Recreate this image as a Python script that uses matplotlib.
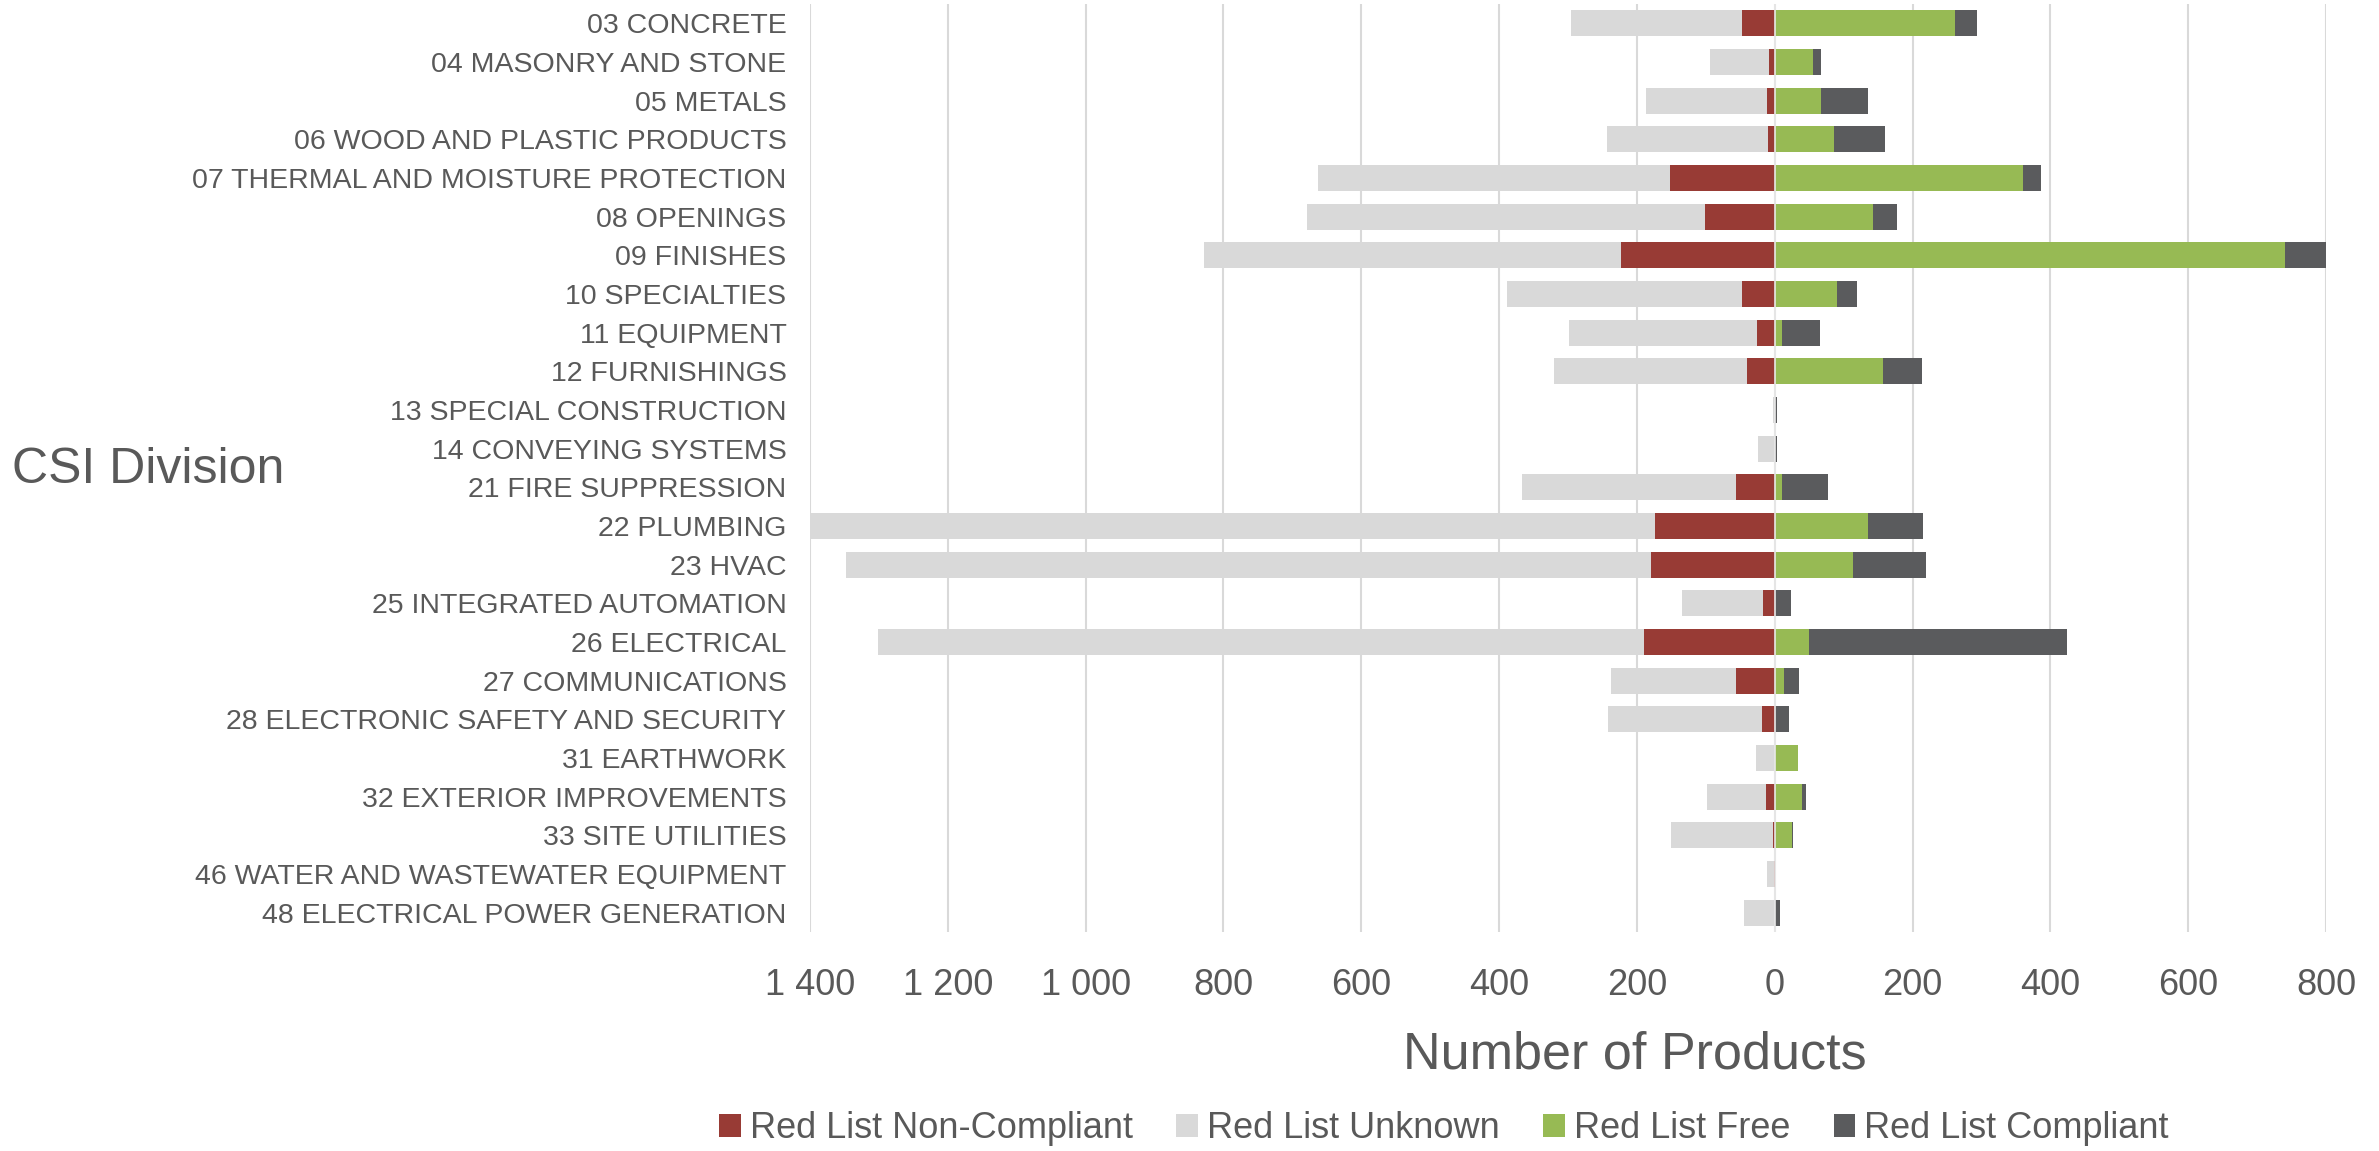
import matplotlib
matplotlib.use("Agg")
import matplotlib.pyplot as plt
from matplotlib.ticker import FuncFormatter, FixedLocator
from matplotlib.patches import Patch
import numpy as np

categories = [
    "03 CONCRETE", "04 MASONRY AND STONE", "05 METALS", "06 WOOD AND PLASTIC PRODUCTS",
    "07 THERMAL AND MOISTURE PROTECTION", "08 OPENINGS", "09 FINISHES", "10 SPECIALTIES",
    "11 EQUIPMENT", "12 FURNISHINGS", "13 SPECIAL CONSTRUCTION", "14 CONVEYING SYSTEMS",
    "21 FIRE SUPPRESSION", "22 PLUMBING", "23 HVAC", "25 INTEGRATED AUTOMATION",
    "26 ELECTRICAL", "27 COMMUNICATIONS", "28 ELECTRONIC SAFETY AND SECURITY",
    "31 EARTHWORK", "32 EXTERIOR IMPROVEMENTS", "33 SITE UTILITIES",
    "46 WATER AND WASTEWATER EQUIPMENT", "48 ELECTRICAL POWER GENERATION",
]
non_compliant = [48, 8, 11, 10, 152, 101, 223, 48, 26, 40, 0, 0, 56, 174, 179, 17, 190, 56, 19, 0, 13, 3, 1, 0]
unknown       = [247, 86, 176, 233, 511, 578, 605, 341, 272, 280, 2, 24, 311, 1226, 1169, 118, 1111, 181, 223, 27, 85, 147, 10, 45]
free          = [262, 56, 67, 86, 360, 142, 741, 90, 11, 157, 1, 0, 10, 136, 113, 1, 50, 13, 1, 34, 40, 25, 0, 0]
compliant     = [31, 11, 69, 74, 26, 36, 61, 29, 54, 56, 2, 3, 68, 79, 106, 23, 374, 22, 20, 0, 6, 1, 0, 7]

series_names = ["Red List Non-Compliant", "Red List Unknown", "Red List Free", "Red List Compliant"]
colors = ["#983B35", "#D9D9D9", "#97BA54", "#5A5B5D"]
xticks = [-1400, -1200, -1000, -800, -600, -400, -200, 0, 200, 400, 600, 800]

TXT = "#595959"
FONT = ["Liberation Sans", "DejaVu Sans"]
plt.rcParams["font.family"] = FONT

fig = plt.figure(figsize=(23.79, 11.51), dpi=100)
ax = fig.add_axes([810 / 2379, 1 - 932 / 1151, (2326 - 810) / 2379, (932 - 4) / 1151])

y = np.arange(len(categories))
nc = np.array(non_compliant, float)
un = np.array(unknown, float)
fr = np.array(free, float)
co = np.array(compliant, float)
h = 0.665
ax.barh(y, -nc, height=h, color=colors[0], zorder=3)
ax.barh(y, -un, left=-nc, height=h, color=colors[1], zorder=3)
ax.barh(y, fr, height=h, color=colors[2], zorder=3)
ax.barh(y, co, left=fr, height=h, color=colors[3], zorder=3)
ax.axvline(0, color="#E8E8E8", linewidth=1.2, zorder=4)

ax.set_xlim(-1400, 800)
ax.set_ylim(len(categories) - 0.5, -0.5)
ax.xaxis.set_major_locator(FixedLocator(xticks))
ax.xaxis.set_major_formatter(FuncFormatter(lambda v, p: f"{abs(int(round(v))):,}".replace(",", " ")))
ax.grid(axis="x", color="#D9D9D9", linewidth=1.5, zorder=0)
ax.set_axisbelow(True)
for s in ax.spines.values():
    s.set_visible(False)
ax.set_yticks(y)
ax.set_yticklabels(categories)
ax.tick_params(axis="y", length=0, pad=17, labelsize=20.5, labelcolor=TXT)
ax.tick_params(axis="x", length=0, pad=26, labelsize=26, labelcolor=TXT)

fig.text(12 / 2379, 1 - 470 / 1151, "CSI Division", fontsize=36, color=TXT, ha="left", va="center")
fig.text(1635 / 2379, 1 - 1055 / 1151, "Number of Products", fontsize=37.5, color=TXT, ha="center", va="center")

handles = [Patch(facecolor=c, edgecolor="none") for c in colors]
fig.legend(handles, series_names, loc="center", bbox_to_anchor=(1444 / 2379, 1 - 1129 / 1151),
           ncol=4, frameon=False, fontsize=26, labelcolor=TXT,
           handlelength=0.6, handleheight=0.6, handletextpad=0.25, columnspacing=1.2)

fig.savefig("out.png", dpi=100)
